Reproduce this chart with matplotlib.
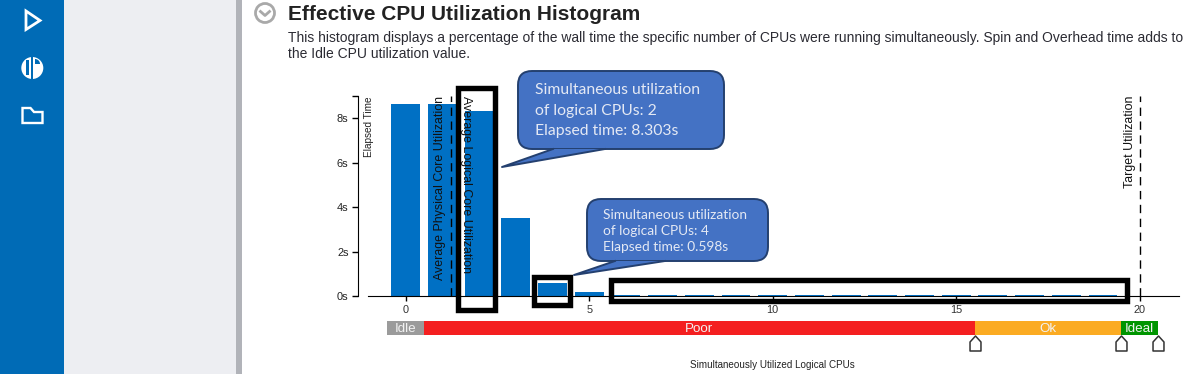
import matplotlib
matplotlib.use('Agg')
import matplotlib.pyplot as plt
from matplotlib.patches import FancyBboxPatch, Polygon, Rectangle, Circle, Wedge
from matplotlib.path import Path

plt.rcParams['font.family'] = ['Liberation Sans', 'DejaVu Sans']

# Chart data
cpus = list(range(20))
elapsed = [8.62, 8.62, 8.303, 3.52, 0.598, 0.17, 0.03, 0.03, 0.03, 0.03,
           0.03, 0.03, 0.03, 0.03, 0.03, 0.03, 0.03, 0.03, 0.03, 0.03]
y_ticks = [0, 2, 4, 6, 8]
y_tick_labels = ['0s', '2s', '4s', '6s', '8s']
x_ticks = [0, 5, 10, 15, 20]
zone_names = ['Idle', 'Poor', 'Ok', 'Ideal']
zone_edges = [-0.5, 0.5, 15.5, 19.5, 20.5]
zone_colors = ['#9b9b9b', '#f41f20', '#fbab22', '#009500']
avg_physical = 1.23
target_util = 20

W, H = 1190, 374
BLUE = '#006bb6'

fig = plt.figure(figsize=(W / 100, H / 100), dpi=100, facecolor='white')


def px_axes(x0, y0, x1, y1, z):
    # axes placed by pixel box, y counted from the top
    a = fig.add_axes([x0 / W, 1 - y1 / H, (x1 - x0) / W, (y1 - y0) / H], zorder=z)
    return a


# Page behind the chart
bg = px_axes(0, 0, W, H, 0)
bg.set_xlim(0, W)
bg.set_ylim(H, 0)
bg.axis('off')
bg.add_patch(Rectangle((0, 0), 64, H, color=BLUE, lw=0))
bg.add_patch(Rectangle((64, 0), 172, H, color='#edeef2', lw=0))
bg.add_patch(Rectangle((236, 0), 6, H, color='#b1b3b9', lw=0))

# Sidebar icons
bg.add_patch(Polygon([(26, 11), (40, 20.5), (26, 29.5)], closed=True, fill=False, ec='white', lw=2))
bg.add_patch(Circle((32.3, 68), 11, color='white', lw=0))
bg.add_patch(Rectangle((31.4, 56), 1.8, 24, color=BLUE, lw=0))
bg.add_patch(Rectangle((26, 60), 3, 15, color=BLUE, lw=0))
bg.add_patch(Wedge((35, 64), 5, 270, 360, color=BLUE, lw=0))
bg.add_patch(Polygon([(22.5, 108), (30.5, 108), (34, 112), (42.5, 112), (42.5, 123), (22.5, 123)],
                     closed=True, fill=False, ec='white', lw=1.7))

# Section header
bg.add_patch(Circle((265, 13), 9.5, fc='white', ec='#a9a9a9', lw=2))
bg.plot([260.5, 265, 269.5], [11.5, 15.5, 11.5], color='#a9a9a9', lw=2)
bg.text(288, 14, 'Effective CPU Utilization Histogram', fontsize=15.07, fontweight='bold',
        color='#222222', va='center')
bg.text(288, 37.5, 'This histogram displays a percentage of the wall time the specific number of CPUs '
        'were running simultaneously. Spin and Overhead time adds to', fontsize=10.03,
        color='#2b2b33', va='center')
bg.text(288, 53.5, 'the Idle CPU utilization value.', fontsize=10.03, color='#2b2b33', va='center')

# Histogram
ax = px_axes(358, 96, 1179, 296, 1)
ax.patch.set_alpha(0)
ax.bar(cpus, elapsed, width=0.79, color='#0070c4')
ax.set_xlim((358 - 405.7) / 36.7, (1179 - 405.7) / 36.7)
ax.set_ylim(0, 200 / 22.25)
for s in ['top', 'right']:
    ax.spines[s].set_visible(False)
ax.spines['bottom'].set_bounds((368 - 405.7) / 36.7, (1179 - 405.7) / 36.7)
ax.set_yticks(y_ticks + [200 / 22.25], y_tick_labels + [''], fontsize=7.9, color='#222222')
ax.set_xticks(x_ticks, [str(t) for t in x_ticks], fontsize=7.9, color='#333333')
ax.tick_params(axis='y', length=4.3, width=1, pad=2.5)
ax.tick_params(axis='x', length=3.5, width=1, pad=3)

ax.axvline(avg_physical, color='black', lw=1, ls=(0, (6, 4)))
ax.axvline(target_util, color='black', lw=1, ls=(0, (6, 4)))

bg2 = px_axes(0, 0, W, H, 2)
bg2.set_xlim(0, W)
bg2.set_ylim(H, 0)
bg2.axis('off')
bg2.text(368.5, 96, 'Elapsed Time', rotation=90, fontsize=7.2, ha='center', va='top', color='#222222')
bg2.text(440.5, 96, 'Average Physical Core Utilization', rotation=90, fontsize=8.9, ha='center', va='top',
         color='#111111')
bg2.text(466, 96, 'Average Logical Core Utilization', rotation=-90, fontsize=8.9, ha='center', va='top',
         color='#111111')
bg2.text(1130.5, 96, 'Target Utilization', rotation=90, fontsize=8.9, ha='center', va='top', color='#111111')
bg2.text(772, 365.5, 'Simultaneously Utilized Logical CPUs', fontsize=7.15, ha='center', va='center',
         color='#222222')

# Utilization zones under the axis
zones = px_axes(358, 321, 1179, 335, 2)
zones.set_xlim(ax.get_xlim())
zones.set_ylim(0, 1)
zones.axis('off')
for i, name in enumerate(zone_names):
    left, right = zone_edges[i], zone_edges[i + 1]
    zones.bar(left, 1, width=right - left, align='edge', color=zone_colors[i], lw=0)
    zones.text((left + right) / 2, 0.4, name, color='#f2f2f2', fontsize=9.6, ha='center', va='center')

# Threshold flags
flag = Path([(0, 1), (0.73, 0.2), (0.73, -1), (-0.73, -1), (-0.73, 0.2), (0, 1)], closed=True)
zones.plot(zone_edges[2:], [-0.54] * 3, ls='none', marker=flag, ms=10.8, mfc='white', mec='#333333', mew=1.1,
           clip_on=False)

# Callouts and the boxes drawn over the screenshot
over = px_axes(0, 0, W, H, 5)
over.set_xlim(0, W)
over.set_ylim(H, 0)
over.axis('off')
for x0, y0, x1, y1 in [(458, 88, 495, 310), (533.5, 276.5, 570, 305), (610.5, 279.5, 1127, 300.5)]:
    over.add_patch(Rectangle((x0, y0), x1 - x0, y1 - y0, fill=False, ec='black', lw=3.9))


def callout(x0, y0, x1, y1, tail, lines, size, tx, ty, step):
    over.add_patch(FancyBboxPatch((x0 + 14, y0 + 14), x1 - x0 - 28, y1 - y0 - 28,
                                  boxstyle='round,pad=14,rounding_size=14', fc='#4472c4', ec='#24406f', lw=1.4))
    over.add_patch(Polygon(tail, closed=True, fc='#4472c4', ec='none', zorder=3))
    over.plot([tail[0][0], tail[1][0], tail[2][0]], [tail[0][1], tail[1][1], tail[2][1]], color='#24406f',
              lw=1.4, zorder=3)
    for i, line in enumerate(lines):
        over.text(tx, ty + i * step, line, family='Lato', fontsize=size, color='#e4e9f4', va='center', zorder=4)


callout(518, 71, 724, 149, [(553, 149), (502, 167), (605, 149)],
        ['Simultaneous utilization', 'of logical CPUs: 2', 'Elapsed time: 8.303s'], 11.35, 535, 90, 20.5)
callout(587, 199, 768, 261, [(615, 261), (574, 275), (665, 261)],
        ['Simultaneous utilization', 'of logical CPUs: 4', 'Elapsed time: 0.598s'], 9.87, 603, 215, 16)

fig.savefig('out.png', dpi=100)
plt.close()
